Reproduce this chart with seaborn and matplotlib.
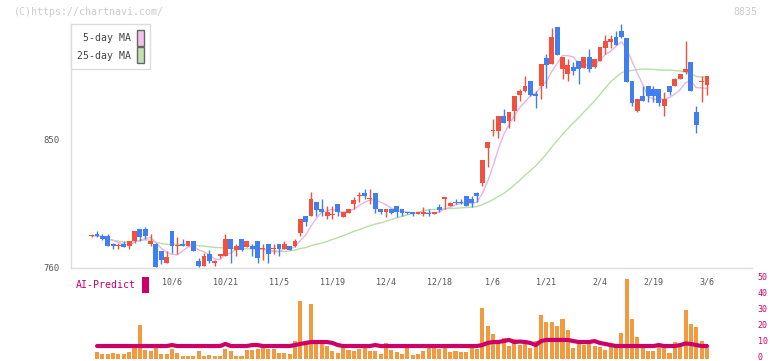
import numpy as np
import pandas as pd
import matplotlib
matplotlib.use('Agg')
import matplotlib.pyplot as plt
import matplotlib.transforms as mtransforms
from matplotlib.patches import Patch, Rectangle
import seaborn as sns

# ---------------- data ----------------
opens = [782, 783, 782, 782, 776, 775, 776, 775, 778, 787, 787, 776, 776, 771, 763, 785,
         775, 776, 775, 778, 764, 761, 769, 763, 768, 768, 780, 772, 780, 774, 775, 778,
         773, 776, 773, 776, 773, 775, 775, 784, 796, 796, 806, 801, 796, 797, 804, 795,
         798, 804, 810, 812, 808, 812, 801, 799, 801, 803, 801, 799, 799, 797, 797, 798,
         797, 802, 808, 803, 806, 806, 810, 808, 812, 819, 844, 856, 856, 866, 863, 870,
         881, 884, 891, 882, 887, 907, 903, 929, 899, 896, 901, 905, 900, 908, 901, 905,
         914, 918, 922, 926, 921, 891, 870, 880, 887, 885, 885, 873, 887, 887, 892, 897,
         904, 869, 890, 888]
highs = [783, 785, 783, 783, 777, 777, 778, 778, 785, 787, 788, 783, 777, 771, 771, 785,
         781, 780, 778, 778, 766, 770, 772, 765, 769, 783, 780, 776, 780, 778, 776, 778,
         776, 776, 776, 776, 778, 775, 780, 794, 796, 813, 806, 808, 803, 803, 804, 799,
         801, 809, 813, 815, 815, 812, 801, 801, 801, 803, 801, 799, 799, 799, 802, 801,
         799, 804, 809, 806, 808, 808, 810, 810, 813, 835, 848, 864, 866, 871, 869, 880,
         885, 894, 891, 884, 903, 910, 928, 929, 908, 906, 904, 905, 908, 913, 906, 915,
         923, 923, 926, 931, 921, 891, 878, 887, 887, 887, 885, 883, 887, 893, 896, 919,
         904, 873, 894, 894]
lows = [781, 781, 779, 775, 773, 773, 774, 773, 777, 778, 780, 775, 760, 762, 763, 770,
        769, 775, 775, 771, 760, 761, 763, 761, 766, 768, 763, 768, 771, 774, 768, 763,
        765, 763, 769, 768, 773, 772, 774, 782, 789, 796, 796, 796, 794, 794, 796, 795,
        798, 801, 806, 808, 804, 798, 797, 795, 797, 795, 796, 797, 796, 797, 796, 796,
        797, 799, 801, 803, 804, 804, 803, 802, 806, 817, 830, 852, 851, 861, 858, 863,
        877, 883, 880, 872, 878, 886, 903, 909, 892, 891, 895, 889, 900, 897, 900, 905,
        910, 914, 916, 921, 890, 873, 869, 877, 876, 876, 873, 866, 881, 887, 892, 896,
        884, 854, 876, 881]
closes = [782, 782, 780, 775, 775, 775, 774, 778, 785, 781, 782, 778, 760, 765, 767, 775,
          775, 775, 778, 771, 761, 768, 764, 764, 769, 780, 773, 775, 772, 778, 773, 766,
          773, 769, 773, 773, 776, 772, 778, 794, 792, 808, 800, 799, 799, 797, 799, 799,
          801, 807, 810, 810, 808, 801, 799, 801, 798, 799, 798, 798, 797, 799, 799, 797,
          799, 800, 809, 805, 805, 805, 803, 805, 810, 835, 848, 856, 866, 861, 869, 880,
          884, 887, 881, 880, 903, 902, 922, 909, 908, 902, 898, 899, 908, 899, 906, 915,
          919, 920, 916, 922, 890, 875, 878, 877, 880, 880, 875, 878, 883, 892, 896, 899,
          884, 860, 891, 894]
# volume bars start at the second session
volume = [4.1, 2.8, 2.8, 3.4, 2.8, 2.8, 4.1, 6.6, 20.9, 5.3, 4.7, 6.6, 2.8, 2.8, 5.9,
          3.4, 1.6, 1.6, 1.6, 4.7, 1.6, 2.2, 1.6, 1.6, 5.9, 4.7, 1.6, 1.6, 5.3, 5.0,
          5.9, 7.2, 5.9, 5.9, 3.4, 3.4, 2.8, 10.9, 35.9, 9.1, 34.0, 9.1, 11.6, 7.8, 4.7,
          3.4, 7.2, 5.3, 4.7, 5.9, 7.2, 4.7, 4.7, 2.8, 9.7, 5.3, 4.1, 2.8, 6.6, 2.2,
          2.8, 4.7, 9.1, 6.6, 5.9, 7.2, 4.1, 4.7, 4.1, 4.1, 9.1, 5.9, 31.6, 20.3, 15.3,
          10.3, 12.8, 7.8, 12.2, 8.4, 11.6, 6.6, 10.9, 27.2, 22.8, 22.8, 20.3, 24.7, 17.8, 6.6,
          11.6, 8.4, 9.1, 7.8, 7.2, 5.3, 7.2, 7.2, 15.9, 49.7, 24.7, 13.4, 9.1, 4.7, 4.7,
          8.4, 9.1, 3.4, 10.3, 7.8, 30.3, 21.6, 19.7, 10.9, 7.2]
ai_predict = [7.8, 7.8, 7.8, 7.8, 7.8, 7.8, 7.8, 7.8, 7.8, 7.8, 7.8, 7.8, 7.8, 7.8, 8.4,
              7.8, 7.8, 7.8, 7.8, 7.8, 7.8, 7.8, 7.8, 7.8, 9.1, 7.8, 7.8, 7.8, 7.8, 8.4,
              8.4, 7.8, 7.8, 7.8, 7.8, 7.8, 7.8, 8.4, 9.1, 9.7, 10.3, 10.3, 10.3, 10.3, 9.7,
              8.4, 7.8, 7.8, 7.8, 7.8, 7.8, 7.8, 8.4, 7.8, 7.8, 7.8, 7.8, 7.8, 7.8, 7.8,
              7.8, 7.8, 7.8, 7.8, 7.8, 7.8, 7.8, 7.8, 7.8, 7.8, 7.8, 7.8, 8.4, 9.7, 10.3,
              10.3, 10.9, 11.6, 10.3, 10.6, 10.3, 9.7, 8.4, 10.9, 11.6, 11.6, 11.6, 11.6, 11.6, 10.9,
              10.3, 10.3, 10.3, 10.9, 9.7, 9.1, 8.4, 7.8, 7.8, 7.8, 7.8, 7.8, 7.8, 7.8, 7.8,
              8.4, 7.8, 7.8, 7.8, 8.4, 9.4, 9.1, 8.4, 7.8, 7.8]
date_labels = ['10/6', '10/21', '11/5', '11/19', '12/4', '12/18', '1/6', '1/21', '2/4', '2/19', '3/6']
date_index = [15, 25, 35, 45, 55, 65, 75, 85, 95, 105, 115]
price_ticks = [760, 850]
volume_ticks = [0, 10, 20, 30, 40, 50]

# ---------------- styling ----------------
RED = '#f2513f'
BLUE = '#3f7fef'
PINK = '#e8b4e8'
GREEN = '#b8dea6'
ORANGE = '#f29a40'
MAGENTA = '#cc0066'
GRID = '#dddddd'
TXT = '#555555'

sns.set_style('white')
plt.rcParams['font.family'] = ['DejaVu Sans Mono']

df = pd.DataFrame({'open': opens, 'high': highs, 'low': lows, 'close': closes})
df['idx'] = np.arange(len(df))
df['ma5'] = df['close'].rolling(5, min_periods=1).mean()
df['ma25'] = df['close'].rolling(25, min_periods=1).mean()

vdf = pd.DataFrame({'vol': volume, 'ai': ai_predict})
vdf['idx'] = np.arange(1, len(vdf) + 1)

W, H = 772, 361
fig = plt.figure(figsize=(W / 100, H / 100), dpi=100)
fig.patch.set_facecolor('white')


def box(l, t, r, b):
    return [l / W, 1 - b / H, (r - l) / W, (b - t) / H]


ax = fig.add_axes(box(71, 24, 752, 268))
axv = fig.add_axes(box(71, 276, 752, 358.5))

XMIN, XMAX = -3.87, 123.42

# moving averages
sns.lineplot(data=df, x='idx', y='ma25', ax=ax, color=GREEN, lw=1, zorder=2)
sns.lineplot(data=df, x='idx', y='ma5', ax=ax, color=PINK, lw=1, zorder=2)

# candles
up = df['close'] >= df['open']
cols = np.where(up, RED, BLUE)
lo = np.minimum(df['open'], df['close'])
diff = np.abs(df['close'] - df['open'])
hgt = np.maximum(diff, 0.75)
bottom = lo - (hgt - diff) / 2
ax.vlines(df['idx'], df['low'], df['high'], colors=cols, lw=1, zorder=3)
ax.bar(df['idx'], hgt, bottom=bottom, width=0.9, color=cols, linewidth=0, zorder=4)

ax.set_xlim(XMIN, XMAX)
ax.set_ylim(759.3, 930.9)
ax.set_xlabel('')
ax.set_ylabel('')
for s in ['top', 'right']:
    ax.spines[s].set_visible(False)
for s in ['left', 'bottom']:
    ax.spines[s].set_color(GRID)
    ax.spines[s].set_linewidth(1)

ax.set_xticks(np.linspace(XMIN, XMAX, 12))
ax.set_xticklabels([])
ax.tick_params(axis='x', which='major', direction='inout', length=7, width=1, color=GRID)
ax.set_xticks(date_index, minor=True)
ax.set_xticklabels(date_labels, minor=True)
ax.tick_params(axis='x', which='minor', length=0, pad=7, labelsize=6, labelcolor=TXT)
ax.set_yticks(price_ticks)
ax.set_yticklabels([str(v) for v in price_ticks])
ax.tick_params(axis='y', length=0, pad=8, labelsize=6.4, labelcolor=TXT)

# legend
handles = [Patch(facecolor='#f3c3ee', edgecolor='#666666', linewidth=1),
           Patch(facecolor='#c2e2b4', edgecolor='#666666', linewidth=1)]
leg = ax.legend(handles=handles, labels=['5-day MA', '25-day MA'], loc='upper left',
                bbox_to_anchor=(0, 1), borderaxespad=0, markerfirst=False,
                handlelength=0.68, handleheight=2.1, handletextpad=0.6,
                labelspacing=0.15, borderpad=0.62, frameon=True, fancybox=False,
                edgecolor=GRID, framealpha=1, prop={'size': 7.1})
leg.get_frame().set_linewidth(1)
for t in leg.get_texts():
    t.set_color('#444444')

# volume panel
axv.bar(vdf['idx'], vdf['vol'], width=0.75, color=ORANGE, linewidth=0, zorder=2)
sns.lineplot(data=vdf, x='idx', y='ai', ax=axv, color=MAGENTA, lw=3, zorder=3)
axv.set_xlim(XMIN, XMAX)
axv.set_ylim(0, 51.56)
axv.set_xlabel('')
axv.set_ylabel('')
axv.set_xticks([])
axv.yaxis.tick_right()
axv.set_yticks(volume_ticks)
axv.set_yticklabels([str(v) for v in volume_ticks])
axv.tick_params(axis='y', length=0, pad=4, labelsize=6, labelcolor=MAGENTA)
shift = mtransforms.ScaledTranslation(0, 1.8 / 100, fig.dpi_scale_trans)
for lab in axv.get_yticklabels():
    lab.set_transform(lab.get_transform() + shift)
for s in axv.spines.values():
    s.set_visible(False)
axv.patch.set_alpha(0)

# texts
fig.text(14 / W, 1 - 12 / H, '(C)https://chartnavi.com/', color='#cccccc', fontsize=7.2,
         ha='left', va='center')
fig.text(757 / W, 1 - 12 / H, '8835', color='#cccccc', fontsize=7.2, ha='right', va='center')
fig.text(76 / W, 1 - 285 / H, 'AI-Predict', color=MAGENTA, fontsize=7.1, ha='left', va='center')
fig.add_artist(Rectangle((142 / W, 1 - 293 / H), 7 / W, 16 / H, transform=fig.transFigure,
                         facecolor=MAGENTA, edgecolor='none'))

fig.savefig('out.png', dpi=100, facecolor='white')
